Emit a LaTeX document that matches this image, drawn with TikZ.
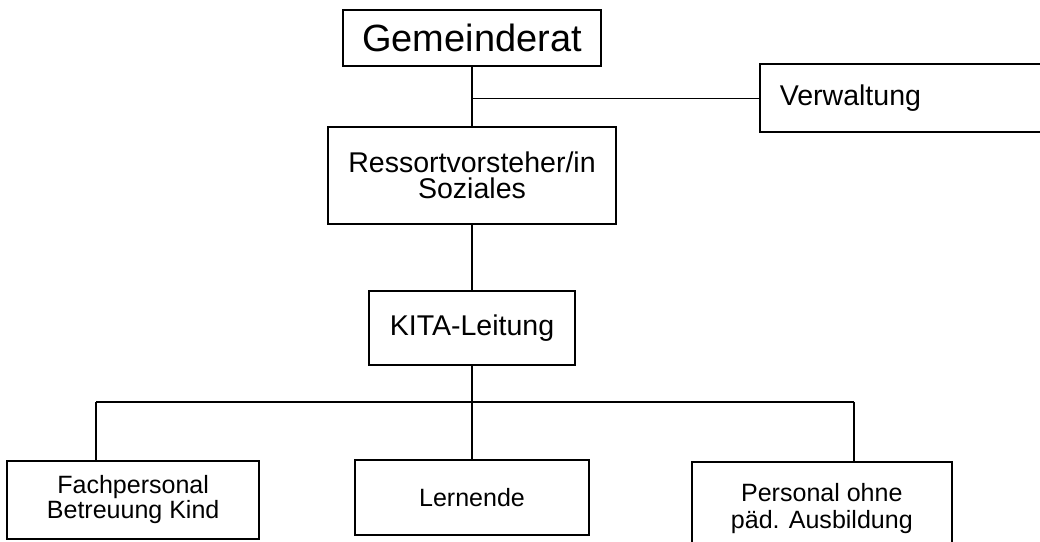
\documentclass[tikz,border=0pt]{standalone}
\usepackage{fontspec}
\setmainfont{Liberation Sans}
\usetikzlibrary{positioning}

\begin{document}
\begin{tikzpicture}[
    box/.style={rectangle, draw, line width=1.3pt, align=center, inner sep=2pt},
    bigtext/.style={font=\fontsize{27}{31}\selectfont},
    midtext/.style={font=\fontsize{20.3}{18.5}\selectfont},
    smalltext/.style={font=\fontsize{17.8}{17.8}\selectfont},
    link/.style={line width=1.1pt},
    thinlink/.style={line width=0.7pt}
]
\clip (0,0) rectangle (26,-13.55);
% top part
\node[box, bigtext, minimum width=6.45cm, minimum height=1.4cm] (gem) at (11.8,-0.95) {Gemeinderat};
\node[box, midtext, minimum width=7.18cm, minimum height=2.43cm, below=1.475cm of gem] (res) {Ressortvorsteher/in\\Soziales};
\node[box, midtext, text width=6.5cm, align=left, inner xsep=0.5cm, minimum height=1.7cm,
      right=3.925cm of gem.east, anchor=west, yshift=-1.5cm] (verw) {Verwaltung};
\node[box, midtext, minimum width=5.13cm, minimum height=1.85cm, below=1.625cm of res] (kita) {KITA-Leitung};
% staff
\node[box, smalltext, minimum width=5.85cm, minimum height=1.88cm, below=2.325cm of kita] (lern) {Lernende};
\node[box, smalltext, minimum width=6.3cm, minimum height=1.95cm, left=2.35cm of lern, yshift=-0.06cm] (fach) {Fachpersonal\\Betreuung Kind};
\node[box, font=\fontsize{17.8}{19.2}\selectfont, minimum width=6.5cm, minimum height=2.35cm,
      right=2.525cm of lern.north east, anchor=north west, yshift=-0.05cm] (pers) {Personal ohne\\päd. Ausbildung};

\coordinate (busL) at (2.4,-10.05);
\coordinate (busR) at (21.35,-10.05);

\draw[link] (gem) -- (res);
\draw[thinlink] (gem.south |- verw.west) -- (verw.west);
\draw[link] (res) -- (kita);
\draw[link] (kita) -- (kita.south |- busL);
\draw[link] (busL) -- (busR);
\draw[link] (busL) -- (busL |- fach.north);
\draw[link] (kita.south |- busL) -- (lern);
\draw[link] (busR) -- (busR |- pers.north);
\end{tikzpicture}
\end{document}
